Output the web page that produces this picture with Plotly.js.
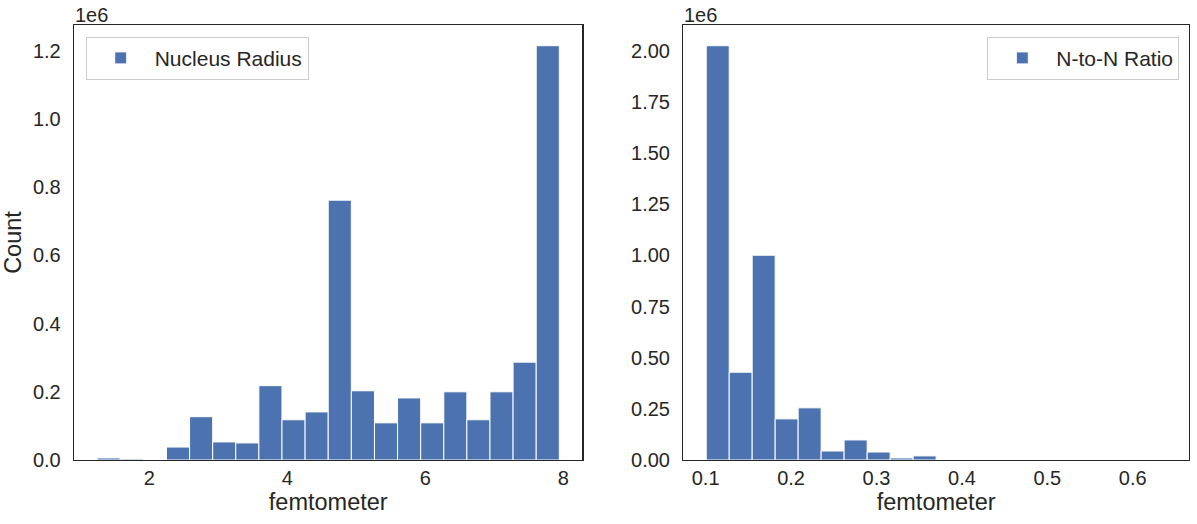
<!DOCTYPE html>
<html>
<head>
<meta charset="utf-8">
<script src="https://cdn.plot.ly/plotly-3.0.1.min.js"></script>
<style>html,body{margin:0;padding:0;background:#fff;}#chart{width:1197px;height:524px;}</style>
</head>
<body>
<div id="chart"></div>
<script>
// ---- Data (histograms, 20 bins each) ----
const radiusBinEdges = [1.245, 1.580, 1.915, 2.250, 2.585, 2.920, 3.254, 3.589, 3.924, 4.259, 4.594,
                        4.929, 5.264, 5.599, 5.934, 6.269, 6.603, 6.938, 7.273, 7.608, 7.943];
const radiusCounts = [6000, 3000, 0, 38000, 127000, 53000, 50000, 218000, 118000, 141000,
                      762000, 203000, 109000, 182000, 109000, 200000, 118000, 200000, 287000, 1215000];

const ratioBinEdges = [0.1007, 0.1276, 0.1545, 0.1814, 0.2083, 0.2352, 0.2621, 0.2891, 0.3160, 0.3429, 0.3698,
                       0.3967, 0.4236, 0.4505, 0.4774, 0.5043, 0.5312, 0.5581, 0.5850, 0.6119, 0.6389];
const ratioCounts = [2025000, 429000, 1001000, 201000, 255000, 44000, 98000, 39000, 10000, 20000,
                     0, 0, 0, 0, 0, 0, 0, 0, 0, 0];

const radiusYTickVals = [0, 200000, 400000, 600000, 800000, 1000000, 1200000];
const radiusYTickText = ['0.0', '0.2', '0.4', '0.6', '0.8', '1.0', '1.2'];
const ratioYTickVals = [0, 250000, 500000, 750000, 1000000, 1250000, 1500000, 1750000, 2000000];
const ratioYTickText = ['0.00', '0.25', '0.50', '0.75', '1.00', '1.25', '1.50', '1.75', '2.00'];

const seriesNames = ['Nucleus Radius', 'N-to-N Ratio'];
const xLabel = 'femtometer';
const yLabel = 'Count';
const offsetText = '1e6';

// ---- helpers ----
function centers(edges) { const c = []; for (let i = 0; i < edges.length - 1; i++) c.push((edges[i] + edges[i + 1]) / 2); return c; }
function widths(edges) { const w = []; for (let i = 0; i < edges.length - 1; i++) w.push(edges[i + 1] - edges[i]); return w; }
function padRange(lo, hi) { const p = 0.05 * (hi - lo); return [lo - p, hi + p]; }

const BLUE = '#4C72B0';
const TXT = '#262626';
const FONT = 'Liberation Sans, Arial, sans-serif';

const traces = [
  {
    type: 'bar', name: seriesNames[0],
    x: centers(radiusBinEdges), y: radiusCounts, width: widths(radiusBinEdges),
    marker: {color: BLUE, line: {color: '#ffffff', width: 1}},
    xaxis: 'x', yaxis: 'y', legend: 'legend', hoverinfo: 'x+y'
  },
  {
    type: 'bar', name: seriesNames[1],
    x: centers(ratioBinEdges), y: ratioCounts, width: widths(ratioBinEdges),
    marker: {color: BLUE, line: {color: '#ffffff', width: 1}},
    xaxis: 'x2', yaxis: 'y2', legend: 'legend2', hoverinfo: 'x+y'
  }
];

const radiusMax = Math.max.apply(null, radiusCounts);
const ratioMax = Math.max.apply(null, ratioCounts);

const axisCommon = {
  showline: true, mirror: true, linecolor: TXT, linewidth: 1.25,
  showgrid: false, zeroline: false, ticks: '',
  tickfont: {family: FONT, size: 20, color: TXT},
  automargin: false
};

const legendCommon = {
  bgcolor: 'rgba(255,255,255,0.8)', bordercolor: '#cccccc', borderwidth: 1,
  font: {family: FONT, size: 21, color: TXT}, itemwidth: 58, tracegroupgap: 0
};

const layout = {
  width: 1197, height: 524,
  paper_bgcolor: '#ffffff', plot_bgcolor: '#ffffff',
  margin: {l: 74, r: 8, t: 25, b: 64},
  font: {family: FONT, color: TXT},
  barmode: 'overlay',
  bargap: 0,
  xaxis: Object.assign({}, axisCommon, {
    domain: [0, 0.456], anchor: 'y',
    range: padRange(radiusBinEdges[0], radiusBinEdges[radiusBinEdges.length - 1]),
    tick0: 0, dtick: 2, ticklabelstandoff: 0,
    title: {text: xLabel, font: {family: FONT, size: 23.5, color: TXT}, standoff: 4}
  }),
  yaxis: Object.assign({}, axisCommon, {
    domain: [0, 1], anchor: 'x',
    range: [0, radiusMax * 1.05],
    tickmode: 'array', tickvals: radiusYTickVals, ticktext: radiusYTickText, ticklabelstandoff: 8,
    title: {text: yLabel, font: {family: FONT, size: 23.5, color: TXT}, standoff: 8}
  }),
  xaxis2: Object.assign({}, axisCommon, {
    domain: [0.5464, 1], anchor: 'y2',
    range: padRange(ratioBinEdges[0], ratioBinEdges[ratioBinEdges.length - 1]),
    tick0: 0, dtick: 0.1, tickformat: '.1f', ticklabelstandoff: 0,
    title: {text: xLabel, font: {family: FONT, size: 23.5, color: TXT}, standoff: 4}
  }),
  yaxis2: Object.assign({}, axisCommon, {
    domain: [0, 1], anchor: 'x2',
    range: [0, ratioMax * 1.05],
    tickmode: 'array', tickvals: ratioYTickVals, ticktext: ratioYTickText, ticklabelstandoff: 8
  }),
  legend: Object.assign({}, legendCommon, {x: 0.0105, xanchor: 'left', y: 0.973, yanchor: 'top'}),
  legend2: Object.assign({}, legendCommon, {x: 0.9913, xanchor: 'right', y: 0.973, yanchor: 'top'}),
  showlegend: true,
  annotations: [
    {text: offsetText, xref: 'paper', yref: 'paper', x: 0, y: 1, xanchor: 'left', yanchor: 'middle',
     yshift: 9.6, xshift: -1, showarrow: false, font: {family: FONT, size: 20, color: TXT}},
    {text: offsetText, xref: 'paper', yref: 'paper', x: 0.5464, y: 1, xanchor: 'left', yanchor: 'middle',
     yshift: 9.6, xshift: -1, showarrow: false, font: {family: FONT, size: 20, color: TXT}}
  ]
};

Plotly.newPlot('chart', traces, layout, {displayModeBar: false, staticPlot: true});
</script>
</body>
</html>
